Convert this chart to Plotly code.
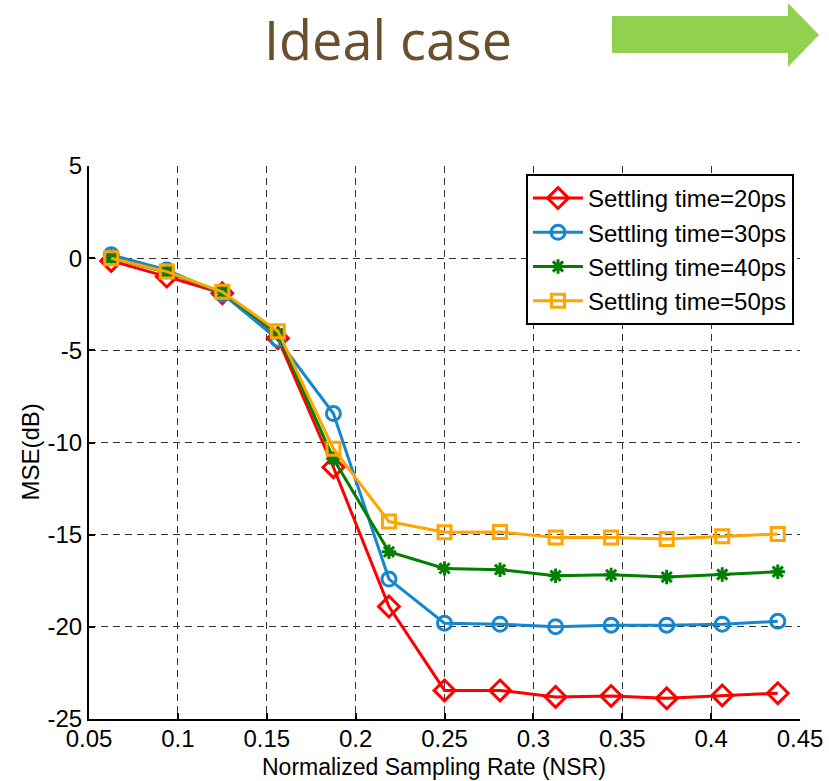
import plotly.graph_objects as go

# Normalized sampling rate (x) and MSE in dB for each settling time
nsr = [0.0625, 0.09375, 0.125, 0.15625, 0.1875, 0.21875, 0.25,
       0.28125, 0.3125, 0.34375, 0.375, 0.40625, 0.4375]
mse_20ps = [-0.15, -1.0, -1.9, -4.35, -11.34, -18.9, -23.45,
            -23.45, -23.8, -23.75, -23.88, -23.72, -23.6]
mse_30ps = [0.18, -0.64, -1.94, -4.4, -8.43, -17.41, -19.8,
            -19.86, -19.99, -19.91, -19.91, -19.86, -19.7]
mse_40ps = [0.0, -0.75, -1.85, -4.1, -10.88, -15.93, -16.83,
            -16.9, -17.23, -17.18, -17.3, -17.16, -17.01]
mse_50ps = [0.0, -0.73, -1.82, -3.96, -10.34, -14.29, -14.87,
            -14.85, -15.16, -15.16, -15.24, -15.09, -14.96]

series_names = ["Settling time=20ps", "Settling time=30ps",
                "Settling time=40ps", "Settling time=50ps"]

x_ticks = [0.05, 0.1, 0.15, 0.2, 0.25, 0.3, 0.35, 0.4, 0.45]
x_tick_labels = ["0.05", "0.1", "0.15", "0.2", "0.25", "0.3", "0.35", "0.4", "0.45"]
y_ticks = [-25, -20, -15, -10, -5, 0, 5]
y_tick_labels = ["-25", "-20", "-15", "-10", "-5", "0", "5"]

title_text = "Ideal case"
x_title = "Normalized Sampling Rate (NSR)"
y_title = "MSE(dB)"

W, H = 829, 781
L, R, T, B = 89, 29, 166, 62
PW, PH = W - L - R, H - T - B


def px(x):
    return (x - L) / PW


def py(y):
    return (H - B - y) / PH


styles = [
    dict(color="#FF0000", symbol="diamond-open", size=16),
    dict(color="#1388CF", symbol="circle-open", size=14),
    dict(color="#007F00", symbol="asterisk-open", size=12),
    dict(color="#FFA500", symbol="square-open", size=13),
]

fig = go.Figure()
for name, vals, st in zip(series_names, [mse_20ps, mse_30ps, mse_40ps, mse_50ps], styles):
    fig.add_trace(go.Scatter(
        x=nsr, y=vals, name=name, mode="lines+markers",
        line=dict(color=st["color"], width=3),
        marker=dict(symbol=st["symbol"], size=st["size"], color=st["color"],
                    line=dict(color=st["color"], width=3)),
    ))

font_family = "Arial, Liberation Sans, sans-serif"
tick_font = dict(family=font_family, size=24, color="black")

fig.update_xaxes(
    range=[0.05, 0.45], tickvals=x_ticks, ticktext=x_tick_labels,
    showgrid=True, gridcolor="#333333", gridwidth=1, griddash="7px,5px",
    zeroline=False, showline=True, linecolor="black", linewidth=2,
    ticks="inside", ticklen=6, tickcolor="black", tickwidth=1.5,
    tickfont=tick_font, ticklabelstandoff=-3, automargin=False,
)
fig.update_yaxes(
    range=[-25, 5], tickvals=y_ticks, ticktext=y_tick_labels,
    showgrid=True, gridcolor="#333333", gridwidth=1, griddash="7px,5px",
    zeroline=False, showline=True, linecolor="black", linewidth=2,
    ticks="inside", ticklen=6, tickcolor="black", tickwidth=1.5,
    tickfont=tick_font, automargin=False,
)

# Green block arrow beside the heading
arrow = [(612, 16), (788, 16), (788, 3), (819, 35), (788, 67), (788, 53), (612, 53)]
path = "M " + " L ".join(f"{px(a):.4f},{py(b):.4f}" for a, b in arrow) + " Z"

fig.update_layout(
    width=W, height=H,
    margin=dict(l=L, r=R, t=T, b=B, pad=0, autoexpand=False),
    paper_bgcolor="white", plot_bgcolor="white",
    showlegend=True,
    legend=dict(
        x=px(794), y=py(174), xanchor="right", yanchor="top",
        bgcolor="white", bordercolor="black", borderwidth=2,
        font=dict(family=font_family, size=24, color="black"),
        itemwidth=50, tracegroupgap=0,
    ),
    shapes=[dict(type="path", path=path, xref="paper", yref="paper",
                 fillcolor="#92D050", line=dict(width=0), layer="above")],
    annotations=[
        dict(text=title_text, x=px(388), y=py(39), xref="paper", yref="paper",
             xanchor="center", yanchor="middle", showarrow=False,
             font=dict(family="Open Sans, sans-serif", size=54, color="#6A4F2C")),
        dict(text=x_title, x=px(434), y=py(781), xref="paper", yref="paper",
             xanchor="center", yanchor="bottom", showarrow=False, borderpad=0,
             font=dict(family=font_family, size=23, color="black")),
        dict(text=y_title, x=px(14), y=py(452), xref="paper", yref="paper",
             xanchor="left", yanchor="middle", showarrow=False, textangle=-90,
             font=dict(family=font_family, size=24, color="black")),
    ],
)

fig.write_html("out.html")
